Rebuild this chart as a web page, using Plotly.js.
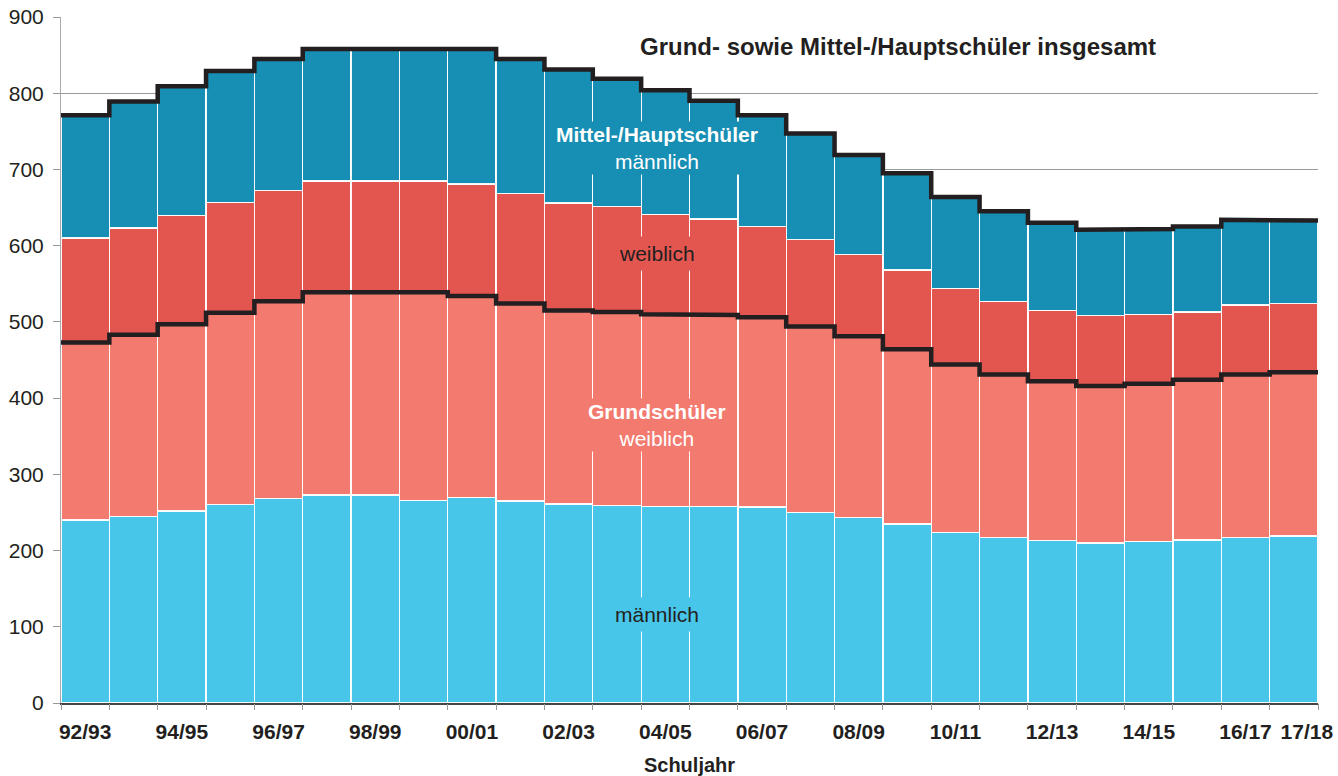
<!DOCTYPE html>
<html>
<head>
<meta charset="utf-8">
<script src="https://cdn.plot.ly/plotly-3.0.1.min.js"></script>
<style>html,body{margin:0;padding:0;background:#fff;}#chart{width:1338px;height:776px;}</style>
</head>
<body>
<div id="chart"></div>
<script>
const years = ["92/93","93/94","94/95","95/96","96/97","97/98","98/99","99/00","00/01","01/02","02/03","03/04","04/05","05/06","06/07","07/08","08/09","09/10","10/11","11/12","12/13","13/14","14/15","15/16","16/17","17/18"];
const labeledYears = ["92/93","94/95","96/97","98/99","00/01","02/03","04/05","06/07","08/09","10/11","12/13","14/15","16/17","17/18"];

// values in thousands
const grundMaennlich = [240,245,252,260,268,273,273,266,270,265,261,259,258,258,257,250,243,235,224,217,213,210,212,214,217,219];
const grundWeiblich  = [233,238,245,252,259,266,266,273,264,259,254,254,252,251,249,244,238,229,220,214,209,206,207,210,214,215];
const mhWeiblich     = [137,140,143,145,145,146,146,146,147,144,141,138,131,126,119,114,107,104,100,96,93,92,91,89,91,90];
const mhMaennlich    = [161,166,169,172,173,173,173,174,177,177,175,168,163,155,146,139,131,127,120,118,115,113,112,112,112,109];

const xs = years.map((_, i) => i);
const font = "Liberation Sans, Arial, Helvetica, sans-serif";
const dark = "#231f20";

const grundTotal = xs.map(i => grundMaennlich[i] + grundWeiblich[i]);
const total = xs.map(i => grundTotal[i] + mhWeiblich[i] + mhMaennlich[i]);

function stepLine(vals) {
  const x = [], y = [];
  vals.forEach((v, i) => { x.push(i - 0.5, i + 0.5); y.push(v, v); });
  return {x, y};
}

const barLine = {color: "rgba(255,255,255,0.95)", width: 1.3};
function bar(name, vals, color) {
  return {type: "bar", name, x: xs, y: vals, width: 1, marker: {color, line: barLine}, hoverinfo: "y+name"};
}
const g = stepLine(grundTotal);
const t = stepLine(total);

const traces = [
  bar("Grundschüler männlich", grundMaennlich, "#48c6e9"),
  bar("Grundschüler weiblich", grundWeiblich, "#f27a6f"),
  bar("Mittel-/Hauptschüler weiblich", mhWeiblich, "#e35650"),
  bar("Mittel-/Hauptschüler männlich", mhMaennlich, "#178eb3"),
  {type: "scatter", mode: "lines", x: g.x, y: g.y, line: {color: dark, width: 4.5, shape: "linear"}, hoverinfo: "skip"},
  {type: "scatter", mode: "lines", x: t.x, y: t.y, line: {color: dark, width: 4.5, shape: "linear"}, hoverinfo: "skip"},
  {type: "scatter", mode: "markers", x: [0], y: [0], xaxis: "x2", marker: {opacity: 0}, hoverinfo: "skip"}
];

// last label is nudged right (as in the original) so it does not collide with its neighbour
const tickPos = labeledYears.map((l, k) => years.indexOf(l) + (k === labeledYears.length - 1 ? 0.27 : 0));

const cx = 11.82;
const layout = {
  width: 1338, height: 776,
  margin: {l: 61, r: 20, t: 17, b: 73},
  paper_bgcolor: "#fff", plot_bgcolor: "#fff",
  showlegend: false,
  barmode: "stack", bargap: 0,
  font: {family: font, color: dark, size: 21},
  xaxis: {
    type: "linear", range: [-0.5, 25.5],
    tickmode: "array",
    tickvals: tickPos,
    ticktext: labeledYears,
    tickangle: 0,
    ticks: "outside", ticklen: 9, tickcolor: "rgba(0,0,0,0)",
    tickfont: {family: font, size: 21, color: dark, weight: "bold"},
    showgrid: false, zeroline: false,
    showline: true, linecolor: "#444", linewidth: 2,
    title: {text: "<b>Schuljahr</b>", font: {family: font, size: 20, color: dark}, standoff: 16}
  },
  xaxis2: {
    overlaying: "x", anchor: "y", side: "bottom", type: "linear", range: [-0.5, 25.5],
    tickmode: "array", tickvals: years.map((_, i) => i - 0.5).concat([25.5]),
    showticklabels: false, ticks: "outside", ticklen: 6, tickcolor: "#999", tickwidth: 1,
    showgrid: false, zeroline: false, showline: false
  },
  yaxis: {
    range: [0, 900], dtick: 100, tick0: 0,
    ticks: "outside", ticklen: 7, tickcolor: "#999",
    ticklabelstandoff: 5,
    showline: true, linecolor: "#aaa", linewidth: 1,
    showgrid: true, gridcolor: "#9a9a9a", gridwidth: 1,
    zeroline: false,
    tickfont: {family: font, size: 21, color: dark}
  },
  annotations: [
    {xref: "x", yref: "y", x: 16.82, y: 861, text: "<b>Grund- sowie Mittel-/Hauptschüler insgesamt</b>",
     showarrow: false, font: {family: font, size: 24, color: dark}, xanchor: "center", yanchor: "middle"},
    {xref: "x", yref: "y", x: cx, y: 728, text: "<b>Mittel-/Hauptschüler</b><br>männlich",
     showarrow: false, font: {family: font, size: 21, color: "#fff"}, bgcolor: "#178eb3", borderpad: 1, align: "center"},
    {xref: "x", yref: "y", x: cx, y: 590, text: "weiblich",
     showarrow: false, font: {family: font, size: 21, color: dark}, bgcolor: "#e35650", borderpad: 5},
    {xref: "x", yref: "y", x: cx, y: 365, text: "<b>Grundschüler</b><br>weiblich",
     showarrow: false, font: {family: font, size: 21, color: "#fff"}, bgcolor: "#f27a6f", borderpad: 1, align: "center"},
    {xref: "x", yref: "y", x: cx, y: 116, text: "männlich",
     showarrow: false, font: {family: font, size: 21, color: dark}, bgcolor: "#48c6e9", borderpad: 5}
  ]
};

Plotly.newPlot("chart", traces, layout, {displayModeBar: false, staticPlot: true});
</script>
</body>
</html>
